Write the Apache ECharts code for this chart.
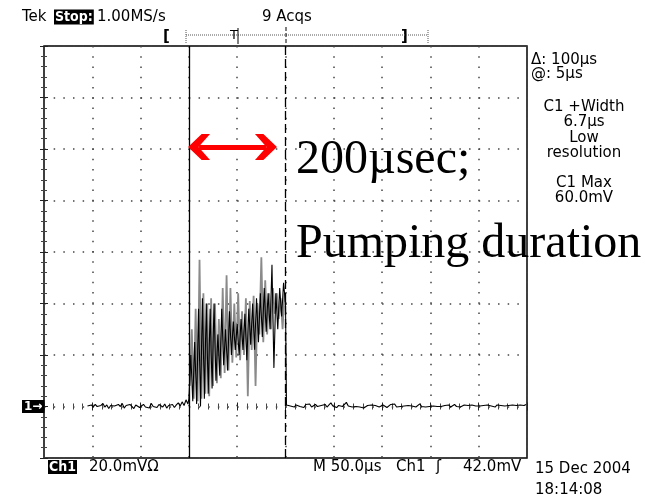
<!DOCTYPE html>
<html>
<head>
<meta charset="utf-8">
<script src="https://cdn.jsdelivr.net/npm/echarts@6/dist/echarts.min.js"></script>
<style>
  html, body { margin: 0; padding: 0; background: #fff; }
  #scope { width: 645px; height: 500px; }
</style>
</head>
<body>
<div id="scope"></div>
<script>
// time in µs (50 µs/div, 10 div), Ch1 in mV (20 mV/div, 8 div, ground 1 div up)
const timeRange = [0, 500];
const timeStep = 50;
const voltRange = [-20, 140];
const voltStep = 20;

// flat noisy trace before the pulse, every 2 µs from 45 µs
const baselineBefore = [
  0.2, -0.4, 0.6, -0.2, 0.8, 0.0, -0.6, 0.4, 1.2, -0.2,
  0.6, -0.8, 0.4, 1.0, 0.2, -0.4, 0.8, 0.0, 1.2, -0.6,
  0.4, -0.2, 0.8, 0.2, -0.8, 0.6, 1.0, -0.4, 0.2, 0.8,
  -0.2, 0.4, -0.6, 1.2, 0.0, 0.6, -0.4, 0.8, 0.2, -0.2,
  1.0, -0.6, 0.4, 0.0, 0.8, -0.4, 0.6, 1.4, 0.2, 1.8,
  0.4, 2.6, 1.0
];
// burst, latest acquisition (black), every 2 µs from 150 µs
const burstBlack = [
  3, 20, 2, 25, 1, 38, 0, 42, 3, 40,
  5, 38, 7, 40, 10, 28, 12, 38, 16, 30,
  14, 37, 20, 33, 22, 32, 20, 34, 22, 36,
  18, 38, 24, 40, 22, 42, 25, 44, 27, 46,
  29, 44, 30, 55, 15, 44, 30, 46, 35, 48, 40
];
// burst, persisted acquisitions (grey), every 2 µs from 151 µs
const burstGray = [
  8, 30, 3, 38, 2, 57, 3, 44, 5, 40,
  4, 42, 8, 40, 9, 34, 11, 46, 13, 51,
  14, 46, 17, 40, 19, 44, 18, 37, 20, 42,
  4, 41, 22, 43, 8, 40, 28, 58, 25, 49,
  28, 44, 30, 46, 36, 44, 34, 42, 30, 44
];
// flat trace after the pulse, every 2 µs from 251 µs
const baselineAfter = [
  0.6, 1.0, 0.2, 0.8, -0.2, 0.6, 1.2, 0.0, 0.4, -0.4,
  0.8, 0.2, 1.0, -0.2, 0.4, 0.8, 0.0, -0.6, 0.4, 0.2,
  0.8, -0.2, 0.6, 1.4, 0.2, 0.8, -0.4, 0.4, 1.0, 0.0,
  0.6, 1.6, 0.2, 0.8, -0.2, 0.4, 0.0, -0.4, -0.2, 0.2,
  -0.6, 0.0, 0.4, -0.2, 0.6, 0.0, 0.4, 0.8, -0.2, 0.2,
  0.6, 0.0, -0.4, 0.2, 0.8, 0.4, 1.0, -0.2, 0.4, 0.0,
  0.6, 0.2, -0.4, 0.4, 0.0, 0.2, 0.8, -0.2, 0.4, 1.0,
  0.0, 0.2, -0.2, 0.2, 0.0, 0.0, 0.2, 0.0, 0.0, 0.2,
  0.0, -0.2, 0.4, 0.0, 0.6, -0.2, 0.4, 0.8, 0.0, 0.4,
  -0.2, 0.2, 0.6, 0.0, 0.4, 0.2, 0.6, 0.0, 0.2, 0.8,
  0.2, -0.4, 0.4, 0.0, 0.6, 1.0, 0.2, 0.4, -0.2, 0.6,
  0.0, 0.4, 0.8, 0.2, -0.2, 0.4, 0.0, 0.6, 0.2, 0.4,
  0.0, 0.6, 1.2, 0.4, 0.8
];

const cursorTimes = [150, 250];       // solid / dashed cursor
const arrowSpan = [160.5, 229.8];     // red double arrow (µs)
const arrowLevel = 100.8;             // mV

const sideReadout = ['C1 +Width', '6.7µs', 'Low', 'resolution'];
const sideReadout2 = ['C1 Max', '60.0mV'];

function toPairs(values, start, step) {
  return values.map((v, i) => [start + i * step, v]);
}

const traceBlack = [].concat(
  toPairs(baselineBefore, 45, 2),
  toPairs(burstBlack, 150, 2),
  toPairs(baselineAfter, 251, 2)
);
const traceGray = toPairs(burstGray, 151, 2);

const chevron = 'path://M13,0 L26,13 L26,21 L13,10 L0,21 L0,13 Z';
const tekFont = '15px "DejaVu Sans"';

function axisX(position, grid) {
  return {
    type: 'value', position: position,
    min: timeRange[0], max: timeRange[1], interval: timeStep,
    axisLine: { show: false },
    axisLabel: { show: false },
    axisTick: { show: true, inside: true, length: 4, lineStyle: { color: '#222' } },
    minorTick: { show: true, splitNumber: 5, length: 3, lineStyle: { color: '#444' } },
    splitLine: { show: grid, lineStyle: { color: '#444', width: 1.5, type: [1.5, 8.75] } }
  };
}
function axisY(position, grid) {
  return {
    type: 'value', position: position,
    min: voltRange[0], max: voltRange[1], interval: voltStep,
    axisLine: { show: false },
    axisLabel: { show: false },
    axisTick: { show: true, inside: true, length: 4, lineStyle: { color: '#222' } },
    minorTick: { show: true, splitNumber: 5, length: 3, lineStyle: { color: '#444' } },
    splitLine: { show: grid, lineStyle: { color: '#444', width: 1.5, type: [1.5, 8.16] } }
  };
}

function txt(x, y, text, extra) {
  return {
    type: 'text', z: 50, silent: true,
    style: Object.assign({
      x: x, y: y, text: text, fill: '#000', font: tekFont,
      align: 'left', verticalAlign: 'middle',
      textAlign: 'left', textVerticalAlign: 'middle'
    }, extra || {})
  };
}
function seg(x1, y1, x2, y2, style) {
  return {
    type: 'line', z: 50, silent: true,
    shape: { x1: x1, y1: y1, x2: x2, y2: y2 },
    style: Object.assign({ stroke: '#000', lineWidth: 1 }, style || {})
  };
}

const chart = echarts.init(document.getElementById('scope'));

const option = {
  animation: false,
  backgroundColor: '#fff',
  grid: {
    left: 44, top: 46, width: 483, height: 412,
    show: true, borderColor: '#000', borderWidth: 1.5, backgroundColor: 'transparent'
  },
  xAxis: [axisX('bottom', true), axisX('top', false)],
  yAxis: [axisY('left', true), axisY('right', false)],
  series: [
    {
      name: 'Ch1 persist', type: 'line', data: traceGray,
      showSymbol: false, silent: true, z: 2,
      lineStyle: { color: '#8a8a8a', width: 1.8 }
    },
    {
      name: 'Ch1', type: 'line', data: traceBlack,
      showSymbol: false, silent: true, z: 3,
      lineStyle: { color: '#000', width: 1.1 },
      markLine: {
        silent: true, symbol: 'none', label: { show: false },
        data: [
          { xAxis: cursorTimes[0], lineStyle: { color: '#000', width: 1.3, type: 'solid' } },
          { xAxis: cursorTimes[1], lineStyle: { color: '#000', width: 1.3, type: [9, 4] } }
        ]
      }
    },
    {
      name: 'span', type: 'line', data: [], z: 6,
      markLine: {
        silent: true, symbol: [chevron, chevron], symbolSize: [26, 22],
        label: { show: false },
        lineStyle: { color: '#ff0000', width: 5, type: 'solid' },
        itemStyle: { color: '#ff0000' },
        data: [[{ coord: [arrowSpan[0], arrowLevel] }, { coord: [arrowSpan[1], arrowLevel] }]]
      }
    }
  ]
};
chart.setOption(option);

const groundY = chart.convertToPixel({ yAxisIndex: 0 }, 0);

const graphics = [
  // header
  txt(22, 17, 'Tek'),
  txt(54, 17, 'Stop:', { fill: '#fff', backgroundColor: '#000', padding: [1, 1, 0, 1], font: 'bold 14px "DejaVu Sans Condensed"' }),
  txt(97, 17, '1.00MS/s'),
  txt(262, 17, '9 Acqs'),
  // record view bar
  txt(163, 37, '[', { font: 'bold 15px "DejaVu Sans"' }),
  txt(401, 37, ']', { font: 'bold 15px "DejaVu Sans"' }),
  seg(186, 35, 428, 35, { stroke: '#555', lineDash: [1, 1] }),
  seg(186, 30, 186, 43, { stroke: '#555', lineDash: [1, 1] }),
  seg(428, 30, 428, 43, { stroke: '#555', lineDash: [1, 1] }),
  txt(230, 36, 'T', { font: '13px "DejaVu Sans"' }),
  seg(238, 28, 238, 44, { stroke: '#000', lineWidth: 1 }),
  seg(286, 27, 286, 45, { stroke: '#000', lineWidth: 1, lineDash: [4, 2] }),
  // ground marker
  txt(22, groundY, '1\u2192', { fill: '#fff', backgroundColor: '#000', padding: [1, 2, 0, 2], font: 'bold 12px "DejaVu Sans"' }),
  // cursor readout
  txt(531, 60, '\u0394: 100µs'),
  txt(531, 74, '@: 5µs'),
  // annotation
  txt(296, 160, '200µsec;', { font: '48px "Liberation Serif"' }),
  txt(296, 244, 'Pumping duration', { font: '48px "Liberation Serif"' }),
  // footer
  txt(48, 467, 'Ch1', { fill: '#fff', backgroundColor: '#000', padding: [0, 1, 0, 1], font: 'bold 14px "DejaVu Sans Condensed"' }),
  txt(89, 467, '20.0mV\u03a9'),
  txt(313, 467, 'M 50.0µs'),
  txt(396, 467, 'Ch1'),
  txt(436, 467, '\u0283'),
  txt(463, 467, '42.0mV'),
  txt(535, 469, '15 Dec 2004'),
  txt(535, 490, '18:14:08')
];
sideReadout.forEach((s, i) => {
  graphics.push(txt(584, 107 + i * 15.5, s, { align: 'center', textAlign: 'center' }));
});
sideReadout2.forEach((s, i) => {
  graphics.push(txt(584, 183 + i * 15, s, { align: 'center', textAlign: 'center' }));
});

chart.setOption({ graphic: graphics });
</script>
</body>
</html>
